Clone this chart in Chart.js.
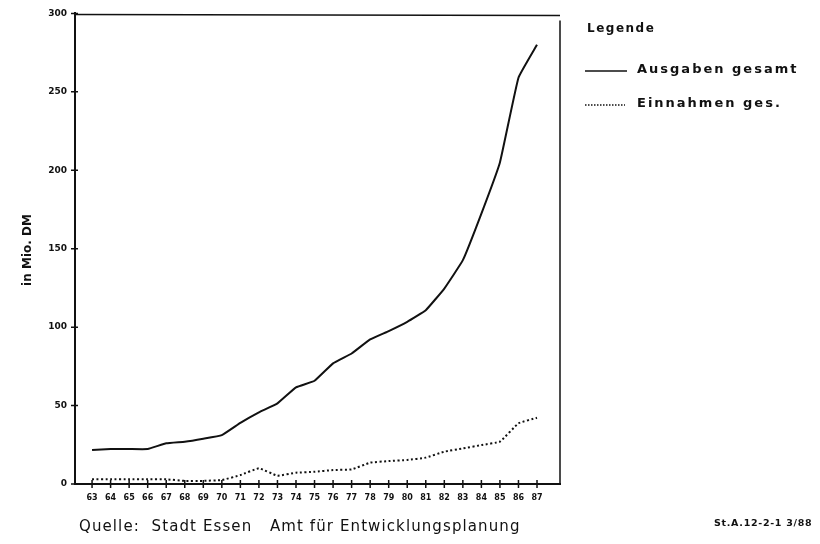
<!DOCTYPE html>
<html>
<head>
<meta charset="utf-8">
<script src="https://cdn.jsdelivr.net/npm/chart.js"></script>
<style>
    html, body { margin: 0; padding: 0; background: #fff; }
    #wrap { width: 820px; height: 544px; }
</style>
</head>
<body>
<div id="wrap"><canvas id="chart" width="820" height="544"></canvas></div>
<script>
// Jahre 1963 - 1987 (Achse zeigt nur zweistellig)
const years = [63, 64, 65, 66, 67, 68, 69, 70, 71, 72, 73, 74, 75, 76, 77, 78, 79, 80, 81, 82, 83, 84, 85, 86, 87];
const yTicks = [0, 50, 100, 150, 200, 250, 300];

// in Mio. DM
const ausgabenGesamt = [21.7, 22.3, 22.3, 22.3, 26, 27, 28.9, 31.2, 39, 45.7, 51.4, 61.6, 65.8, 76.9, 83.2, 92.2, 97.5, 103.4, 110.8, 124.6, 142.7, 172.4, 205, 259, 280];
const einnahmenGes = [3, 3, 3, 3, 3, 2, 2, 2.5, 5.7, 10, 5.3, 7.2, 7.8, 8.9, 9.3, 13.6, 14.6, 15.3, 16.8, 20.6, 22.7, 24.8, 27, 38.7, 42.2];

const legendTitle = 'Legende';
const seriesLabels = ['Ausgaben gesamt', 'Einnahmen ges.'];
const yAxisTitle = 'in Mio. DM';
const sourceText = 'Quelle:  Stadt Essen   Amt für Entwicklungsplanung';
const codeText = 'St.A.12-2-1 3/88';

const ink = '#111111';
const FONT = '"DejaVu Sans", sans-serif';

function toPoints(values) {
    return years.map((x, i) => ({ x: x, y: values[i] }));
}

// frame, cross ticks, legend, axis title and footer
const decorPlugin = {
    id: 'decor',
    afterDraw(chart) {
        const ctx = chart.ctx;
        const area = chart.chartArea;
        const xs = chart.scales.x;
        const ys = chart.scales.y;
        ctx.save();
        ctx.strokeStyle = ink;
        ctx.fillStyle = ink;

        // top and right border of the plot box
        ctx.lineWidth = 1.5;
        ctx.beginPath();
        ctx.moveTo(area.left, area.top + 1);
        ctx.lineTo(area.right, area.top + 2);
        ctx.moveTo(area.right, area.top + 7);
        ctx.lineTo(area.right, area.bottom);
        ctx.stroke();

        // tick marks crossing the axes
        ctx.lineWidth = 1.5;
        ctx.beginPath();
        yTicks.forEach(v => {
            const py = ys.getPixelForValue(v);
            ctx.moveTo(area.left - 4, py);
            ctx.lineTo(area.left + 3, py);
        });
        years.forEach(v => {
            const px = xs.getPixelForValue(v);
            ctx.moveTo(px, area.bottom - 4);
            ctx.lineTo(px, area.bottom + 4);
        });
        ctx.stroke();

        // y axis title
        ctx.save();
        ctx.translate(28, 250);
        ctx.rotate(-Math.PI / 2);
        ctx.font = 'bold 12px ' + FONT;
        ctx.textAlign = 'center';
        ctx.textBaseline = 'middle';
        ctx.fillText(yAxisTitle, 0, 0);
        ctx.restore();

        // legend
        ctx.font = 'bold 12px ' + FONT;
        ctx.letterSpacing = '1.5px';
        ctx.textAlign = 'left';
        ctx.textBaseline = 'alphabetic';
        ctx.fillText(legendTitle, 587, 32);
        ctx.font = 'bold 13px ' + FONT;
        ctx.letterSpacing = '2px';
        ctx.fillText(seriesLabels[0], 637, 73);
        ctx.fillText(seriesLabels[1], 637, 107);
        ctx.letterSpacing = '0px';

        ctx.lineWidth = 1.5;
        ctx.beginPath();
        ctx.moveTo(585, 71);
        ctx.lineTo(627, 71);
        ctx.stroke();
        ctx.setLineDash([1.5, 1.5]);
        ctx.beginPath();
        ctx.moveTo(585, 105);
        ctx.lineTo(625, 105);
        ctx.stroke();
        ctx.setLineDash([]);

        // footer
        ctx.font = '15px ' + FONT;
        ctx.letterSpacing = '1.1px';
        ctx.textBaseline = 'middle';
        ctx.fillText(sourceText, 79, 527);
        ctx.font = 'bold 9.5px ' + FONT;
        ctx.letterSpacing = '0.7px';
        ctx.fillText(codeText, 714, 524);
        ctx.letterSpacing = '0px';

        ctx.restore();
    }
};

const ctx = document.getElementById('chart').getContext('2d');
new Chart(ctx, {
    type: 'line',
    data: {
        datasets: [
            {
                label: seriesLabels[0],
                data: toPoints(ausgabenGesamt),
                borderColor: ink,
                borderWidth: 2,
                pointRadius: 0,
                tension: 0.1,
                fill: false,
            },
            {
                label: seriesLabels[1],
                data: toPoints(einnahmenGes),
                borderColor: ink,
                borderWidth: 2,
                borderDash: [2, 2.5],
                pointRadius: 0,
                tension: 0.1,
                fill: false,
            },
        ],
    },
    plugins: [decorPlugin],
    options: {
        responsive: false,
        devicePixelRatio: 1,
        animation: false,
        layout: {
            padding: { left: 0, top: 13, right: 260, bottom: 0 }
        },
        plugins: {
            legend: { display: false },
            tooltip: { enabled: false },
        },
        scales: {
            x: {
                type: 'linear',
                min: 62.08,
                max: 88.24,
                afterBuildTicks: (scale) => {
                    scale.ticks = years.map(v => ({ value: v }));
                },
                afterFit: (scale) => { scale.height = 60; },
                grid: { display: false, drawTicks: false },
                border: { display: true, color: ink, width: 2 },
                ticks: {
                    autoSkip: false,
                    maxRotation: 0,
                    padding: 9,
                    color: ink,
                    font: { family: FONT, size: 8, weight: 'bold' },
                    callback: (value) => String(value),
                },
            },
            y: {
                type: 'linear',
                min: 0,
                max: 300,
                afterBuildTicks: (scale) => {
                    scale.ticks = yTicks.map(v => ({ value: v }));
                },
                afterFit: (scale) => { scale.width = 75; },
                grid: { display: false, drawTicks: false },
                border: { display: true, color: ink, width: 2 },
                ticks: {
                    padding: 8,
                    color: ink,
                    font: { family: FONT, size: 9, weight: 'bold' },
                    callback: (value) => String(value),
                },
            },
        },
    },
});
</script>
</body>
</html>
